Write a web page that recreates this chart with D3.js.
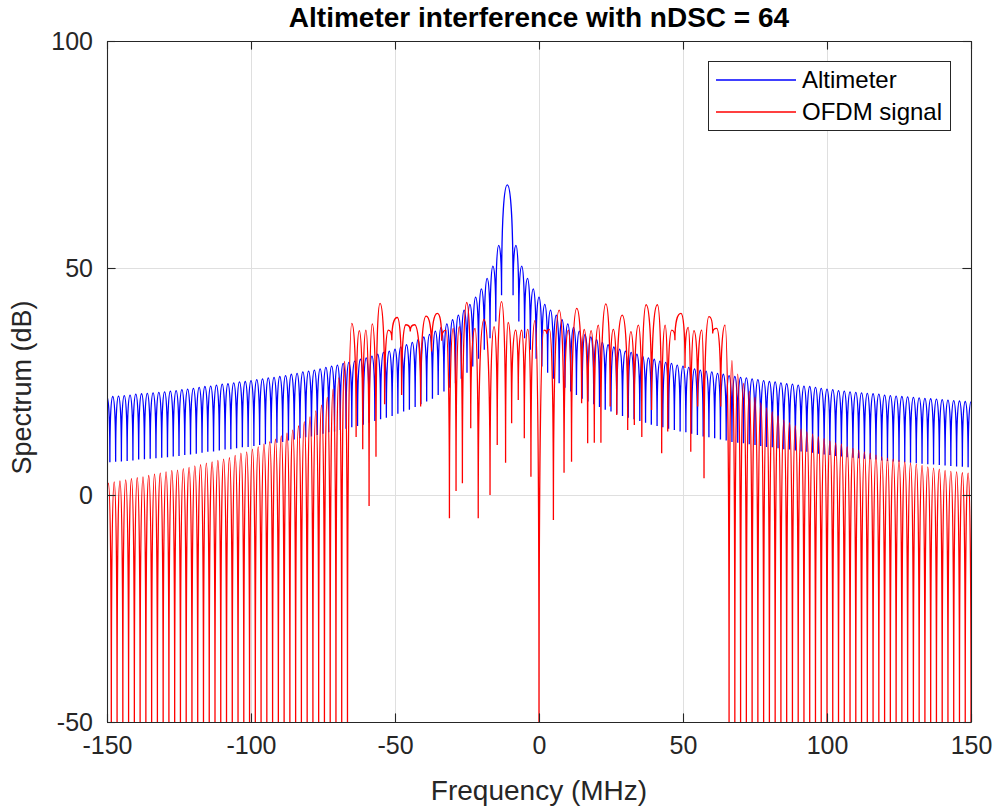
<!DOCTYPE html>
<html>
<head>
<meta charset="utf-8">
<script src="https://cdn.jsdelivr.net/npm/d3@7"></script>
<style>
  body { margin: 0; background: #fff; }
  text { font-family: "Liberation Sans", Arial, Helvetica, sans-serif; }
</style>
</head>
<body>
<script>
// Altimeter vs OFDM spectrum, nDSC = 64

var width = 996;
var height = 809;
var plot = {left: 107, right: 971, top: 41, bottom: 722};

var xTicks = [-150, -100, -50, 0, 50, 100, 150];
var yTicks = [-50, 0, 50, 100];
var seriesNames = ["Altimeter", "OFDM signal"];

// Altimeter: main lobe at -11 MHz, sidelobe peaks on even MHz, troughs on odd MHz
var altMainFreq = -11;
var altMainDb = 68.3;
// peaks at -150, -148, ... -14
var altLeftPeaks = [21.6, 21.7, 21.8, 21.9, 22.0, 22.2, 22.3, 22.4, 22.5, 22.6,
  22.7, 22.9, 23.0, 23.2, 23.3, 23.5, 23.7, 23.9, 24.0, 24.2,
  24.4, 24.5, 24.7, 24.9, 25.0, 25.2, 25.4, 25.6, 25.8, 25.9,
  26.1, 26.3, 26.6, 26.8, 27.1, 27.3, 27.5, 27.8, 28.1, 28.4,
  28.6, 29.0, 29.2, 29.5, 29.9, 30.2, 30.6, 31.0, 31.4, 31.7,
  32.1, 32.6, 33.1, 33.6, 34.2, 34.8, 35.4, 36.1, 36.9, 37.7,
  38.6, 39.6, 40.7, 42.0, 43.6, 45.4, 47.7, 50.4, 55.0];
// troughs at -149, -147, ... -13
var altLeftTroughs = [7.2, 7.3, 7.4, 7.5, 7.6, 7.8, 7.9, 8.0, 8.1, 8.2,
  8.3, 8.5, 8.6, 8.8, 8.9, 9.1, 9.3, 9.5, 9.6, 9.8,
  10.0, 10.1, 10.3, 10.5, 10.6, 10.8, 11.0, 11.2, 11.4, 11.5,
  11.7, 12.0, 12.2, 12.5, 12.7, 12.9, 13.2, 13.5, 13.8, 14.0,
  14.3, 14.6, 14.9, 15.2, 15.5, 15.9, 16.3, 16.7, 17.0, 17.4,
  17.9, 18.4, 18.8, 19.4, 20.0, 20.6, 21.2, 22.0, 22.8, 23.6,
  24.6, 25.6, 26.9, 28.3, 30.0, 32.0, 34.5, 38.2, 44.0];
// troughs at -9, -7, ... 149
var altRightTroughs = [44.0, 38.2, 34.5, 32.0, 30.0, 28.3, 26.9, 25.6, 24.6, 23.6,
  22.8, 22.0, 21.2, 20.6, 20.0, 19.4, 18.8, 18.4, 17.9, 17.4,
  17.0, 16.7, 16.3, 15.9, 15.5, 15.2, 14.9, 14.6, 14.3, 14.0,
  13.8, 13.5, 13.2, 12.9, 12.7, 12.5, 12.2, 12.0, 11.7, 11.5,
  11.4, 11.2, 11.0, 10.8, 10.6, 10.5, 10.3, 10.1, 10.0, 9.8,
  9.6, 9.5, 9.3, 9.1, 8.9, 8.8, 8.6, 8.5, 8.3, 8.2,
  8.1, 8.0, 7.9, 7.8, 7.6, 7.5, 7.4, 7.3, 7.2, 7.1,
  7.0, 6.9, 6.8, 6.7, 6.6, 6.5, 6.4, 6.3, 6.2, 6.1];
// peaks at -8, -6, ... 150
var altRightPeaks = [55.0, 50.4, 47.7, 45.4, 43.6, 42.0, 40.7, 39.6, 38.6, 37.7,
  36.9, 36.1, 35.4, 34.8, 34.2, 33.6, 33.1, 32.6, 32.1, 31.7,
  31.4, 31.0, 30.6, 30.2, 29.9, 29.5, 29.2, 29.0, 28.6, 28.4,
  28.1, 27.8, 27.5, 27.3, 27.1, 26.8, 26.6, 26.3, 26.1, 25.9,
  25.8, 25.6, 25.4, 25.2, 25.0, 24.9, 24.7, 24.5, 24.4, 24.2,
  24.0, 23.9, 23.7, 23.5, 23.3, 23.2, 23.0, 22.9, 22.7, 22.6,
  22.5, 22.4, 22.3, 22.2, 22.0, 21.9, 21.8, 21.7, 21.6, 21.5,
  21.4, 21.3, 21.2, 21.1, 21.0, 20.9, 20.8, 20.7, 20.6, 20.5];

// OFDM: out-of-band sidelobes (nulls drop to -inf)
// left peaks at -149.5, -147.5, ... -67.5
var ofdmLeftPeaks = [2.6, 2.9, 3.1, 3.3, 3.6, 3.8, 4.0, 4.3, 4.6, 4.8,
  5.1, 5.4, 5.5, 5.8, 6.1, 6.4, 6.7, 7.0, 7.3, 7.6,
  7.9, 8.2, 8.7, 9.2, 9.5, 10.1, 10.6, 11.2, 11.7, 12.3,
  13.0, 13.6, 14.3, 15.2, 16.1, 17.2, 18.5, 19.8, 21.5, 23.3,
  25.8, 29.4];
// right peaks at 67, 69, ... 149
var ofdmRightPeaks = [29.6, 26.6, 24.6, 22.8, 21.5, 20.3, 19.2, 18.3, 17.4, 16.5,
  15.9, 15.2, 14.5, 13.9, 13.4, 12.8, 12.4, 11.9, 11.5, 11.2,
  10.6, 10.3, 9.9, 9.5, 9.2, 8.8, 8.4, 8.1, 7.9, 7.6,
  7.3, 7.0, 6.8, 6.5, 6.2, 5.9, 5.7, 5.4, 5.2, 5.1,
  4.9, 4.8];
// in-band peaks and dips
var bandFreq = [-65.0, -63.5, -62.4, -61.2, -60.1, -59.0, -57.9, -56.6, -55.2, -53.6,
  -52.3, -51.1, -49.2, -47.7, -46.2, -44.7, -43.2, -41.1, -39.2, -37.3,
  -35.3, -33.8, -32.3, -31.1, -29.8, -28.8, -27.7, -26.6, -25.1, -23.7,
  -22.2, -21.1, -19.1, -17.0, -15.6, -14.5, -13.0, -11.6, -10.7, -9.5,
  -8.1, -7.2, -6.0, -5.1, -3.9, -2.8, -1.4, 0.0, 1.7, 2.7,
  3.6, 5.0, 7.0, 8.7, 10.2, 11.3, 13.1, 14.8, 15.7, 16.9,
  18.1, 19.2, 20.6, 21.5, 23.2, 24.7, 25.8, 27.0, 28.9, 30.8,
  31.9, 33.1, 34.5, 35.7, 37.2, 39.1, 41.1, 42.6, 43.8, 44.7,
  46.1, 47.2, 49.3, 50.7, 51.8, 52.7, 53.8, 55.1, 56.5, 57.3,
  59.0, 60.3, 61.7, 63.1, 64.6];
var bandDb = [37.8, 12.8, 36.2, 10.1, 36.3, -2.4, 37.7, 8.4, 42.2, 20.0,
  36.3, 34.1, 39.1, 22.0, 37.5, 36.0, 37.5, 19.5, 39.4, 31.6,
  40.0, 34.0, 36.3, -5.1, 36.7, 0.9, 37.1, 2.6, 42.4, 14.7,
  36.7, -5.1, 38.7, 0.0, 37.1, 11.0, 42.6, 7.1, 38.0, 15.8,
  36.3, 20.9, 36.3, 12.5, 36.5, 4.0, 38.4, -Infinity, 36.3, 35.5,
  36.5, -5.5, 40.7, 4.9, 36.3, 7.3, 41.1, 20.2, 36.5, 11.4,
  36.2, 11.5, 37.4, 11.5, 42.1, 19.5, 36.5, 17.6, 39.6, 14.3,
  36.0, 15.4, 37.4, 12.8, 41.9, 18.7, 41.9, 9.2, 37.4, 14.0,
  36.3, 34.1, 40.0, 28.0, 36.9, 9.5, 36.2, 19.5, 36.3, 3.7,
  39.3, 35.6, 36.7, 19.5, 37.4];

// build point lists (freq, dB)
var altData = [];
altLeftPeaks.forEach(function(v, i){
  altData.push([-150 + 2 * i, v]);
  altData.push([-149 + 2 * i, altLeftTroughs[i]]);
});
altData.push([altMainFreq, altMainDb]);
altRightTroughs.forEach(function(v, i){
  altData.push([-9 + 2 * i, v]);
  altData.push([-8 + 2 * i, altRightPeaks[i]]);
});

var ofdmData = [];
ofdmLeftPeaks.forEach(function(v, i){
  ofdmData.push([-150.5 + 2 * i, -Infinity]);
  ofdmData.push([-149.5 + 2 * i, v]);
});
ofdmData.push([-66.5, -Infinity]);
bandFreq.forEach(function(f, i){ ofdmData.push([f, bandDb[i]]); });
ofdmRightPeaks.forEach(function(v, i){
  ofdmData.push([66 + 2 * i, -Infinity]);
  ofdmData.push([67 + 2 * i, v]);
});
ofdmData.push([150, -Infinity]);

var xScale = d3.scaleLinear().domain([-150, 150]).range([plot.left, plot.right]);
var yScale = d3.scaleLinear().domain([-50, 100]).range([plot.bottom, plot.top]).clamp(true);

// spectrum lobes: rounded tops, sharp notches
function lobeCurve(context) {
  var pts = [];
  function kind(i) {
    var y = pts[i][1];
    var a = i > 0 ? pts[i - 1][1] : null;
    var b = i < pts.length - 1 ? pts[i + 1][1] : null;
    var up = (a === null || y <= a) && (b === null || y <= b);
    var dn = (a === null || y >= a) && (b === null || y >= b);
    if (up) return "max";
    if (dn) return "min";
    return "mid";
  }
  function slope(i) {
    var p = pts[i - 1], q = pts[i + 1];
    return (q[1] - p[1]) / (q[0] - p[0]);
  }
  return {
    areaStart: function(){}, areaEnd: function(){},
    lineStart: function(){ pts = []; },
    point: function(x, y){ pts.push([+x, +y]); },
    lineEnd: function(){
      if (!pts.length) return;
      context.moveTo(pts[0][0], pts[0][1]);
      for (var i = 0; i < pts.length - 1; i++) {
        var p0 = pts[i], p1 = pts[i + 1];
        var dx = p1[0] - p0[0], dy = p1[1] - p0[1];
        var k0 = kind(i), k1 = kind(i + 1), c1, c2;
        if (k0 === "max") c1 = [p0[0] + dx * 0.5, p0[1]];
        else if (k0 === "min") c1 = [p0[0], p0[1] + dy * 0.75];
        else { var m0 = slope(i); c1 = [p0[0] + dx / 3, p0[1] + m0 * dx / 3]; }
        if (k1 === "max") c2 = [p1[0] - dx * 0.5, p1[1]];
        else if (k1 === "min") c2 = [p1[0], p1[1] - dy * 0.75];
        else { var m1 = slope(i + 1); c2 = [p1[0] - dx / 3, p1[1] - m1 * dx / 3]; }
        context.bezierCurveTo(c1[0], c1[1], c2[0], c2[1], p1[0], p1[1]);
      }
    }
  };
}

var line = d3.line()
  .x(function(d){ return xScale(d[0]); })
  .y(function(d){ return yScale(d[1]); })
  .curve(lobeCurve);

var svg = d3.select("body").append("svg")
  .attr("width", width)
  .attr("height", height);

svg.append("rect").attr("width", width).attr("height", height).attr("fill", "#fff");

svg.append("defs").append("clipPath").attr("id", "plotclip")
  .append("rect")
  .attr("x", plot.left).attr("y", plot.top)
  .attr("width", plot.right - plot.left).attr("height", plot.bottom - plot.top);

// grid
var grid = svg.append("g").attr("stroke", "#dfdfdf").attr("stroke-width", 1);
grid.selectAll(".gx").data(xTicks.slice(1, -1)).enter().append("line")
  .attr("x1", function(d){ return Math.round(xScale(d)) + 0.5; })
  .attr("x2", function(d){ return Math.round(xScale(d)) + 0.5; })
  .attr("y1", plot.top).attr("y2", plot.bottom);
grid.selectAll(".gy").data(yTicks.slice(1, -1)).enter().append("line")
  .attr("y1", function(d){ return Math.round(yScale(d)) + 0.5; })
  .attr("y2", function(d){ return Math.round(yScale(d)) + 0.5; })
  .attr("x1", plot.left).attr("x2", plot.right);

// series
var series = svg.append("g").attr("clip-path", "url(#plotclip)");
series.append("path").datum(altData)
  .attr("d", line).attr("fill", "none")
  .attr("stroke", "#0000ff").attr("stroke-width", 1.3);
series.append("path").datum(ofdmData)
  .attr("d", line).attr("fill", "none")
  .attr("stroke", "#ff0000").attr("stroke-width", 1.3);

// axes (box with inward ticks)
var tickLen = 8.6;
var fmt = function(d){ return String(d); };
var axisColor = "#262626";

function styleAxis(g) {
  g.select(".domain").attr("stroke", axisColor).attr("stroke-width", 1.1);
  g.selectAll(".tick line").attr("stroke", axisColor).attr("stroke-width", 1.1);
  g.selectAll(".tick text").attr("fill", axisColor)
    .style("font-size", "25px").style("font-family", "'Liberation Sans', Arial, sans-serif");
}

svg.append("g")
  .attr("transform", "translate(0," + plot.bottom + ")")
  .call(d3.axisBottom(xScale).tickValues(xTicks).tickFormat(fmt)
    .tickSizeInner(-tickLen).tickSizeOuter(0).tickPadding(14))
  .call(styleAxis);
svg.append("g")
  .attr("transform", "translate(0," + plot.top + ")")
  .call(d3.axisTop(xScale).tickValues(xTicks).tickFormat("")
    .tickSizeInner(-tickLen).tickSizeOuter(0))
  .call(styleAxis);
svg.append("g")
  .attr("transform", "translate(" + plot.left + ",0)")
  .call(d3.axisLeft(yScale).tickValues(yTicks).tickFormat(fmt)
    .tickSizeInner(-tickLen).tickSizeOuter(0).tickPadding(14))
  .call(styleAxis);
svg.append("g")
  .attr("transform", "translate(" + plot.right + ",0)")
  .call(d3.axisRight(yScale).tickValues(yTicks).tickFormat("")
    .tickSizeInner(-tickLen).tickSizeOuter(0))
  .call(styleAxis);

// titles
svg.append("text")
  .attr("x", (plot.left + plot.right) / 2).attr("y", 27)
  .attr("text-anchor", "middle")
  .style("font-size", "28px").style("font-weight", "bold")
  .attr("fill", "#000")
  .text("Altimeter interference with nDSC = 64");

svg.append("text")
  .attr("x", (plot.left + plot.right) / 2).attr("y", 800)
  .attr("text-anchor", "middle")
  .style("font-size", "28px")
  .attr("fill", axisColor)
  .text("Frequency (MHz)");

svg.append("text")
  .attr("transform", "translate(31," + ((plot.top + plot.bottom) / 2 + 6) + ") rotate(-90)")
  .attr("text-anchor", "middle")
  .style("font-size", "27px")
  .attr("fill", axisColor)
  .text("Spectrum (dB)");

// legend
var legend = svg.append("g");
legend.append("rect")
  .attr("x", 708.5).attr("y", 61.5).attr("width", 242).attr("height", 69)
  .attr("fill", "#fff").attr("stroke", axisColor).attr("stroke-width", 1);
var legColors = ["#0000ff", "#ff0000"];
seriesNames.forEach(function(name, i){
  var ly = 80 + i * 32;
  legend.append("line")
    .attr("x1", 716).attr("x2", 796).attr("y1", ly).attr("y2", ly)
    .attr("stroke", legColors[i]).attr("stroke-width", 1.3);
  legend.append("text")
    .attr("x", 802).attr("y", ly + 8)
    .style("font-size", "24px")
    .attr("fill", "#000")
    .text(name);
});
</script>
</body>
</html>
